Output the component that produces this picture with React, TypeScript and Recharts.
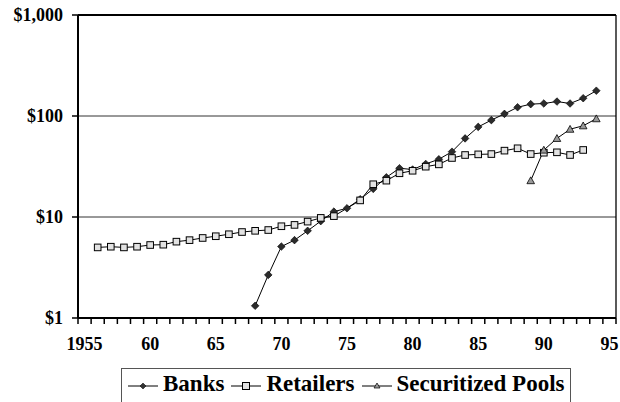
import React from 'react';
import { LineChart, Line, XAxis, YAxis, CartesianGrid, ReferenceLine } from 'recharts';

const years = [
  1955, 1956, 1957, 1958, 1959, 1960, 1961, 1962, 1963, 1964,
  1965, 1966, 1967, 1968, 1969, 1970, 1971, 1972, 1973, 1974,
  1975, 1976, 1977, 1978, 1979, 1980, 1981, 1982, 1983, 1984,
  1985, 1986, 1987, 1988, 1989, 1990, 1991, 1992, 1993, 1994, 1995,
];

const banks: (number | null)[] = [
  null, null, null, null, null, null, null, null, null, null,
  null, null, null, 1.32, 2.67, 5.1, 5.9, 7.3, 9.1, 11.3,
  12.2, 15, 19, 24.7, 30.4, 29.5, 33.5, 37.3, 44.3, 60,
  78, 91, 105, 122, 131, 133, 139, 133, 150, 178, null,
];

const retailers: (number | null)[] = [
  null, 5.0, 5.08, 5.0, 5.08, 5.28, 5.32, 5.7, 5.9, 6.2,
  6.45, 6.75, 7.1, 7.3, 7.43, 8.1, 8.35, 9.0, 9.8, 10.2,
  null, 14.6, 21.1, 22.9, 27.1, 28.7, 31.5, 33.2, 38.4, 41.1,
  41.7, 42, 45.4, 47.9, 42, 43.3, 43.7, 41.1, 46.1, null, null,
];

const pools: (number | null)[] = [
  null, null, null, null, null, null, null, null, null, null,
  null, null, null, null, null, null, null, null, null, null,
  null, null, null, null, null, null, null, null, null, null,
  null, null, null, null, 22.9, 46, 60, 74, 80, 94, null,
];

const xLabelYears = [1955, 1960, 1965, 1970, 1975, 1980, 1985, 1990, 1995];
const xLabels = ['1955', '60', '65', '70', '75', '80', '85', '90', '95'];
const yTicks = [1, 10, 100, 1000];
const yLabels = ['$1', '$10', '$100', '$1,000'];
const seriesNames = ['Banks', 'Retailers', 'Securitized Pools'];

const data = years.map((year, i) => ({
  year,
  banks: banks[i],
  retailers: retailers[i],
  pools: pools[i],
}));

const boundaryTicks = [...years.map((y) => y - 0.5), years[years.length - 1] + 0.5];
const xTicks = [...boundaryTicks, ...xLabelYears].sort((a, b) => a - b);

const FONT = 'Liberation Serif';

const XTick = (props: any) => {
  const { x, y, payload } = props;
  const v = payload.value;
  const li = xLabelYears.indexOf(v);
  if (li >= 0) {
    return (
      <text x={x} y={y + 32} textAnchor="middle" style={{ fontFamily: FONT }} fontWeight="bold" fontSize={18} fill="#000">
        {xLabels[li]}
      </text>
    );
  }
  return <line x1={x} y1={y} x2={x} y2={y + 6} stroke="#000" strokeWidth={1.5} />;
};

const YTick = (props: any) => {
  const { x, y, payload } = props;
  const li = yTicks.indexOf(payload.value);
  return (
    <text x={x} y={y} dy={6} textAnchor="end" style={{ fontFamily: FONT }} fontWeight="bold" fontSize={18} fill="#000">
      {li >= 0 ? yLabels[li] : ''}
    </text>
  );
};

const DiamondDot = (props: any) => {
  const { cx, cy, index } = props;
  if (cx == null || cy == null) return <g key={`d${index}`} />;
  const r = 3.8;
  return (
    <path
      key={`d${index}`}
      d={`M${cx},${cy - r}L${cx + r},${cy}L${cx},${cy + r}L${cx - r},${cy}Z`}
      fill="#2b2b2b"
      stroke="#000"
      strokeWidth={0.6}
    />
  );
};

const SquareDot = (props: any) => {
  const { cx, cy, index } = props;
  if (cx == null || cy == null) return <g key={`s${index}`} />;
  const h = 3.3;
  return (
    <rect key={`s${index}`} x={cx - h} y={cy - h} width={h * 2} height={h * 2} fill="#e2e2e2" stroke="#000" strokeWidth={1} />
  );
};

const TriangleDot = (props: any) => {
  const { cx, cy, index } = props;
  if (cx == null || cy == null) return <g key={`t${index}`} />;
  const r = 3.8;
  return (
    <path
      key={`t${index}`}
      d={`M${cx},${cy - r}L${cx + r},${cy + r * 0.8}L${cx - r},${cy + r * 0.8}Z`}
      fill="#9a9a9a"
      stroke="#000"
      strokeWidth={0.8}
    />
  );
};

const LegendMarker = ({ kind }: { kind: number }) => (
  <svg width={32} height={14} style={{ display: 'block' }}>
    <line x1={1} y1={7} x2={31} y2={7} stroke="#000" strokeWidth={1} />
    {kind === 0 && <path d="M16,4 L19,7 L16,10 L13,7 Z" fill="#333" stroke="#000" strokeWidth={0.5} />}
    {kind === 1 && <rect x={12.5} y={3.5} width={7} height={7} fill="#e2e2e2" stroke="#000" strokeWidth={1} />}
    {kind === 2 && <path d="M16,4 L19,9 L13,9 Z" fill="#9a9a9a" stroke="#000" strokeWidth={0.7} />}
  </svg>
);

export default function App() {
  return (
    <div style={{ position: 'fixed', left: 0, top: 0, width: 620, height: 402, overflow: 'hidden', background: '#fff', fontFamily: FONT }}>
      <LineChart width={620} height={402} data={data} margin={{ top: 15, right: 4, bottom: 0, left: 0 }} style={{ fontFamily: FONT }}>
        <CartesianGrid horizontal={true} vertical={false} stroke="#333" strokeWidth={1} />
        <XAxis
          dataKey="year"
          type="number"
          domain={[1954.5, 1995.5]}
          ticks={xTicks}
          interval={0}
          tick={<XTick />}
          tickLine={false}
          tickSize={0}
          tickMargin={0}
          height={84}
          axisLine={{ stroke: '#000', strokeWidth: 2 }}
        />
        <YAxis
          type="number"
          scale="log"
          domain={[1, 1000]}
          ticks={yTicks}
          interval={0}
          width={78}
          tickSize={6}
          tickMargin={9}
          tick={<YTick />}
          tickLine={{ stroke: '#000', strokeWidth: 1.5 }}
          axisLine={{ stroke: '#000', strokeWidth: 2 }}
          allowDataOverflow
        />
        <ReferenceLine y={1000} stroke="#000" strokeWidth={2} ifOverflow="visible" />
        <ReferenceLine x={1995.5} stroke="#000" strokeWidth={1.3} ifOverflow="visible" />
        <Line dataKey="banks" stroke="#000" strokeWidth={1} dot={DiamondDot} activeDot={false} isAnimationActive={false} connectNulls />
        <Line dataKey="retailers" stroke="#000" strokeWidth={1} dot={SquareDot} activeDot={false} isAnimationActive={false} connectNulls />
        <Line dataKey="pools" stroke="#000" strokeWidth={1} dot={TriangleDot} activeDot={false} isAnimationActive={false} connectNulls />
      </LineChart>
      <div
        style={{
          position: 'absolute',
          left: 121,
          top: 368,
          width: 450,
          height: 50,
          border: '1px solid #555',
          boxSizing: 'border-box',
          display: 'flex',
          alignItems: 'flex-start',
          paddingTop: 2,
          paddingLeft: 5,
          fontFamily: FONT,
          fontWeight: 'bold',
          fontSize: 23,
          color: '#000',
          whiteSpace: 'nowrap',
        }}
      >
        {seriesNames.map((name, i) => (
          <div key={name} style={{ display: 'flex', alignItems: 'center', marginRight: 6 }}>
            <div style={{ marginTop: 3 }}>
              <LegendMarker kind={i} />
            </div>
            <span style={{ marginLeft: 4 }}>{name}</span>
          </div>
        ))}
      </div>
    </div>
  );
}
